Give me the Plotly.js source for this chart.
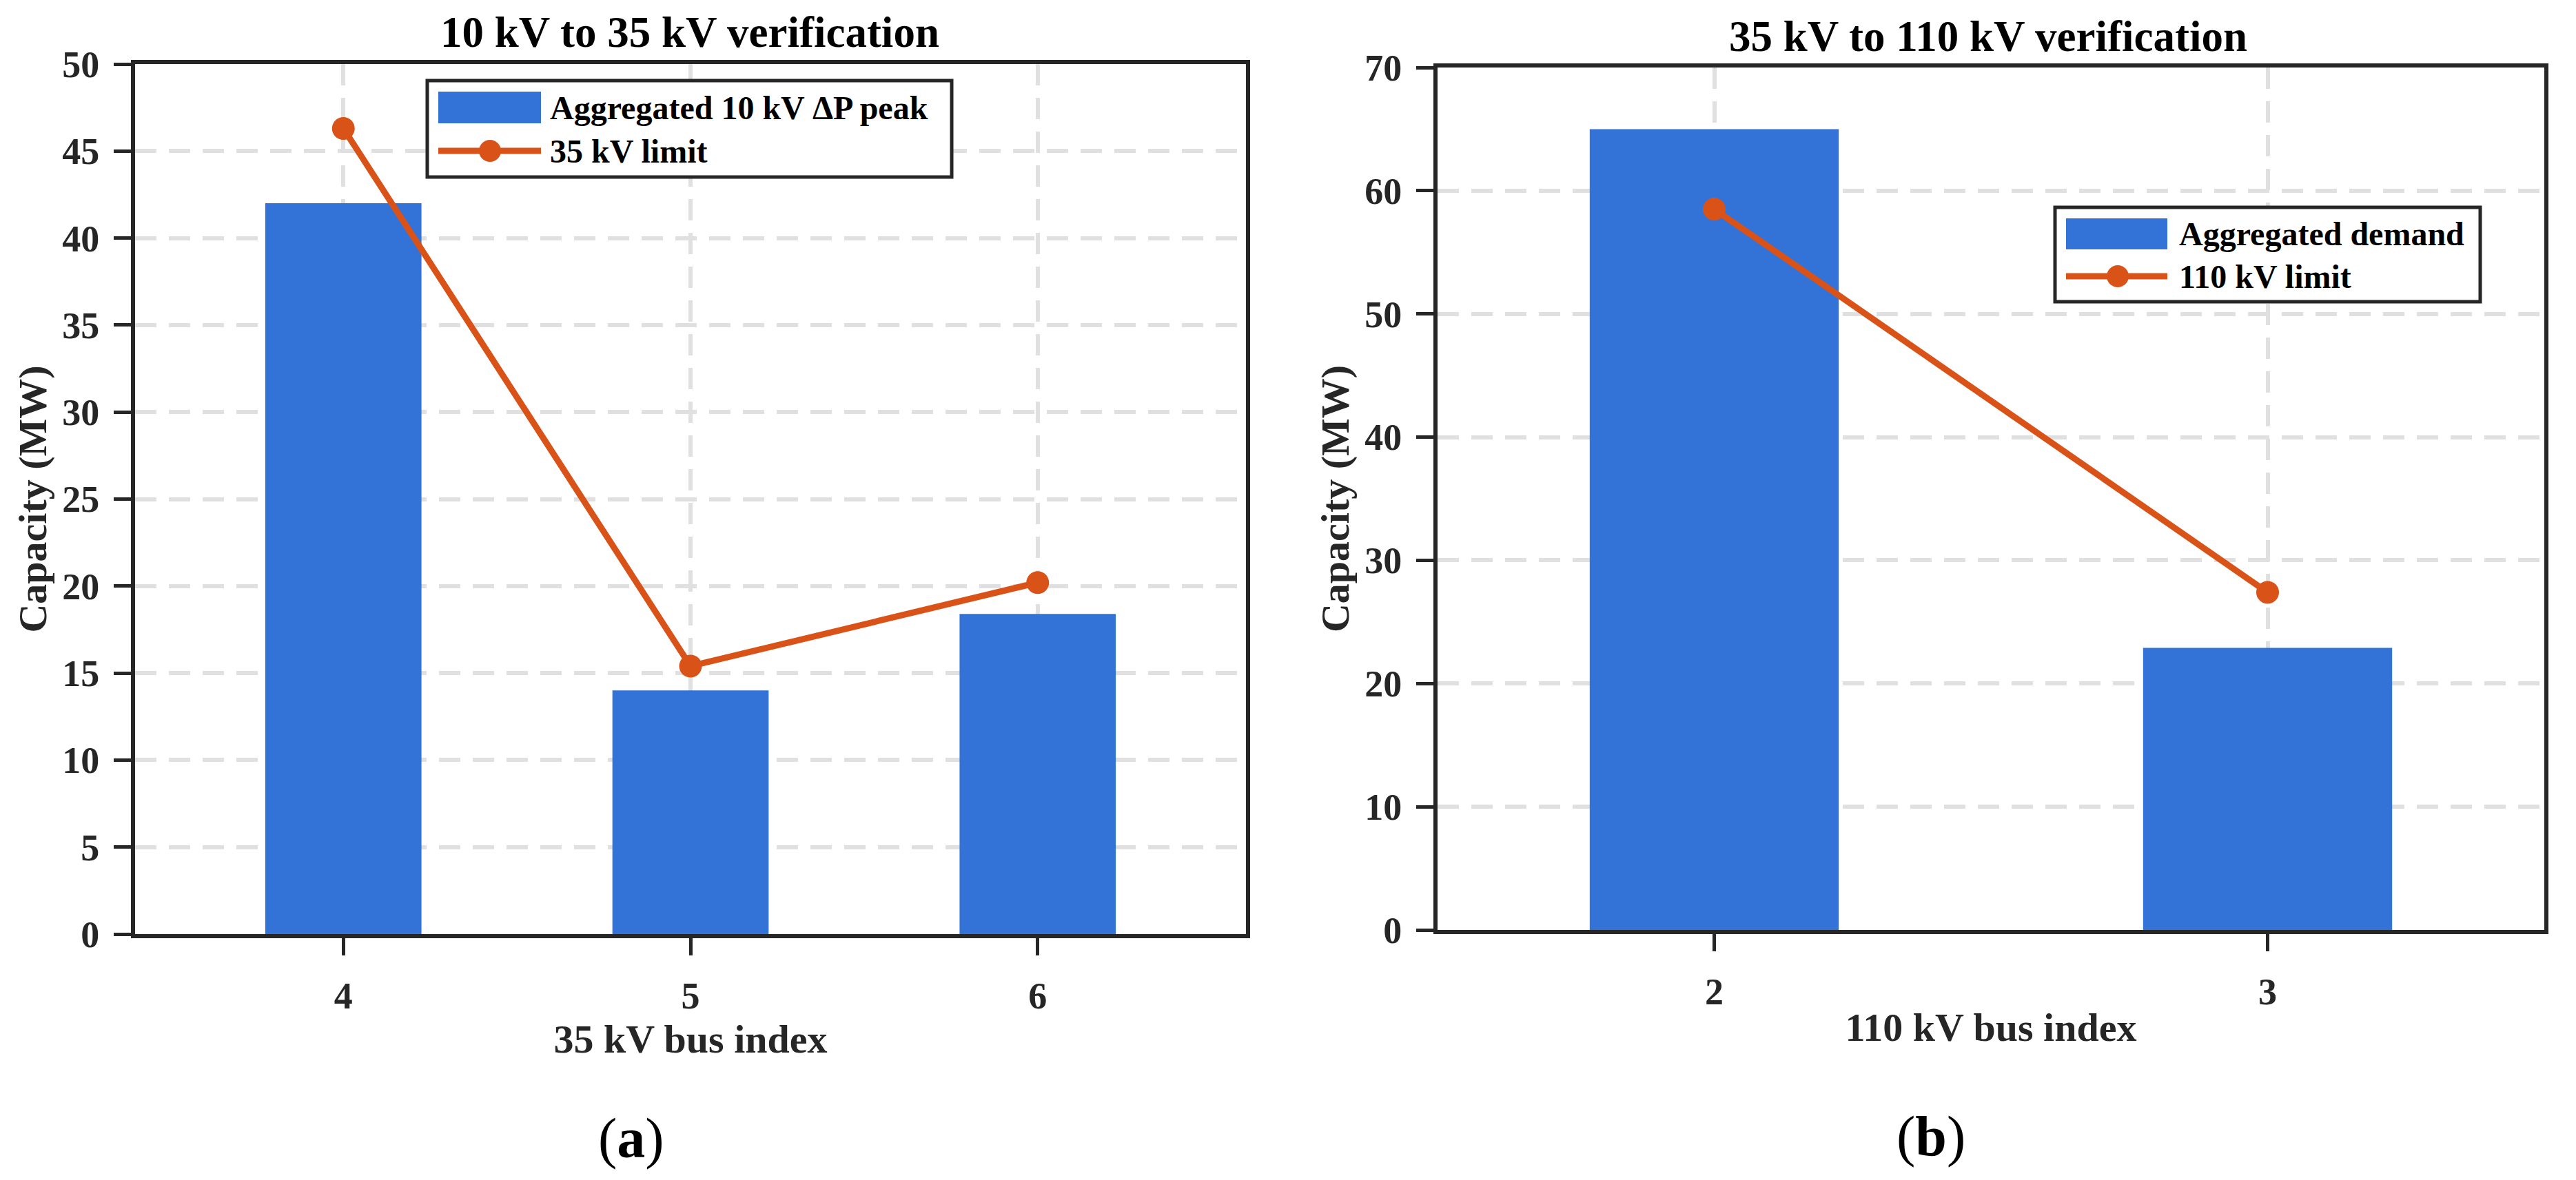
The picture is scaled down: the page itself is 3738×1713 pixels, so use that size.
<!DOCTYPE html>
<html>
<head>
<meta charset="utf-8">
<script src="https://cdn.plot.ly/plotly-3.0.1.min.js"></script>
<style>
  html, body { margin: 0; padding: 0; background: #fff; }
  #plot { width: 3738px; height: 1713px; }
</style>
</head>
<body>
<div id="plot"></div>
<script>
// panel (a): 10 kV -> 35 kV
var bus35 = [4, 5, 6];
var agg10Peak = [42.0, 14.0, 18.4];
var limit35 = [46.3, 15.4, 20.2];

// panel (b): 35 kV -> 110 kV
var bus110 = [2, 3];
var aggDemand = [65.0, 22.9];
var limit110 = [58.5, 27.4];

var nameBarA = 'Aggregated 10 kV \u0394P peak';
var nameLineA = '35 kV limit';
var nameBarB = 'Aggregated demand';
var nameLineB = '110 kV limit';

var W = 3738, H = 1713;
var FONT = '"Liberation Serif", "Times New Roman", serif';
var BLUE = '#3373d7';
var ORANGE = '#d95319';
var INK = '#262626';

function px(x) { return x / W; }
function py(y) { return 1 - y / H; }

var traces = [
  { type: 'bar', x: bus35, y: agg10Peak, name: nameBarA, width: 0.45,
    marker: { color: BLUE, line: { width: 0 } }, xaxis: 'x', yaxis: 'y' },
  { type: 'scatter', mode: 'lines+markers', x: bus35, y: limit35, name: nameLineA,
    line: { color: ORANGE, width: 9 }, marker: { color: ORANGE, size: 33 }, xaxis: 'x', yaxis: 'y' },
  { type: 'bar', x: bus110, y: aggDemand, name: nameBarB, width: 0.45,
    marker: { color: BLUE, line: { width: 0 } }, xaxis: 'x2', yaxis: 'y2' },
  { type: 'scatter', mode: 'lines+markers', x: bus110, y: limit110, name: nameLineB,
    line: { color: ORANGE, width: 9 }, marker: { color: ORANGE, size: 33 }, xaxis: 'x2', yaxis: 'y2' }
];

var tickFont = { family: FONT, size: 54, color: INK, weight: 'bold' };
var titleFont = { family: FONT, size: 58, color: INK, weight: 'bold' };

function xAxis(dom, rng, vals, label) {
  return {
    domain: dom, range: rng, tickvals: vals, ticktext: vals.map(String),
    showline: true, mirror: true, linecolor: INK, linewidth: 6,
    ticks: 'outside', ticklen: 25, tickwidth: 5, tickcolor: INK,
    ticklabelstandoff: 12,
    showgrid: true, gridcolor: '#e0e0e0', gridwidth: 6, griddash: '31px,18px',
    zeroline: false, tickfont: tickFont,
    title: { text: label, font: titleFont, standoff: 4 }
  };
}
function yAxis(dom, rng, dt, label) {
  return {
    domain: dom, range: rng, dtick: dt, tick0: 0,
    showline: true, mirror: true, linecolor: INK, linewidth: 6,
    ticks: 'outside', ticklen: 25, tickwidth: 5, tickcolor: INK,
    ticklabelstandoff: 10,
    showgrid: true, gridcolor: '#e0e0e0', gridwidth: 6, griddash: '31px,18px',
    zeroline: false, tickfont: tickFont,
    title: { text: label, font: titleFont, standoff: 6 }
  };
}

var annotations = [
  { text: '<b>10 kV to 35 kV verification</b>', x: px(1001), y: py(47) },
  { text: '<b>35 kV to 110 kV verification</b>', x: px(2885), y: py(53) }
].map(function (a) {
  return Object.assign({ xref: 'paper', yref: 'paper', xanchor: 'center', yanchor: 'middle',
    showarrow: false, font: { family: FONT, size: 63, color: '#000' } }, a);
});

annotations.push(
  { text: '(<b>a</b>)', x: px(916), y: py(1652), xref: 'paper', yref: 'paper',
    xanchor: 'center', yanchor: 'middle', showarrow: false, font: { family: FONT, size: 82, color: '#000' } },
  { text: '(<b>b</b>)', x: px(2802), y: py(1649), xref: 'paper', yref: 'paper',
    xanchor: 'center', yanchor: 'middle', showarrow: false, font: { family: FONT, size: 82, color: '#000' } }
);

// legend boxes drawn by hand so the swatches can be matplotlib-sized
var shapes = [];
function legendBox(box, sw, rowY, markX, textX, labels) {
  shapes.push({ type: 'rect', xref: 'paper', yref: 'paper',
    x0: px(box[0]), x1: px(box[1]), y0: py(box[2]), y1: py(box[3]),
    fillcolor: '#fff', line: { color: INK, width: 5 } });
  shapes.push({ type: 'rect', xref: 'paper', yref: 'paper',
    x0: px(sw[0]), x1: px(sw[1]), y0: py(sw[2]), y1: py(sw[3]),
    fillcolor: BLUE, line: { width: 0 } });
  shapes.push({ type: 'line', xref: 'paper', yref: 'paper',
    x0: px(sw[0]), x1: px(sw[1]), y0: py(rowY[1]), y1: py(rowY[1]),
    line: { color: ORANGE, width: 9 } });
  shapes.push({ type: 'circle', xref: 'paper', yref: 'paper',
    x0: px(markX - 16), x1: px(markX + 16), y0: py(rowY[1] - 16), y1: py(rowY[1] + 16),
    fillcolor: ORANGE, line: { width: 0 } });
  labels.forEach(function (t, i) {
    annotations.push({ text: '<b>' + t + '</b>', xref: 'paper', yref: 'paper',
      x: px(textX), y: py(rowY[i]), xanchor: 'left', yanchor: 'middle', showarrow: false,
      font: { family: FONT, size: 48, color: '#000' } });
  });
}
legendBox([620, 1381, 117, 257], [636, 785, 133, 179], [156, 219], 711, 796, [nameBarA, nameLineA]);
legendBox([2982, 3599, 301, 438], [2998, 3145, 317, 362], [340, 401], 3073, 3160, [nameBarB, nameLineB]);

var layout = {
  width: W, height: H,
  margin: { l: 0, r: 0, t: 0, b: 0 },
  paper_bgcolor: '#fff', plot_bgcolor: '#fff',
  showlegend: false,
  font: { family: FONT, color: INK },
  xaxis: xAxis([px(196), px(1808)], [3.4, 6.6], bus35, '35 kV bus index'),
  yaxis: yAxis([py(1356), py(93)], [0, 50], 5, 'Capacity (MW)'),
  xaxis2: xAxis([px(2086), px(3692)], [1.5, 3.5], bus110, '110 kV bus index'),
  yaxis2: yAxis([py(1350), py(98)], [0, 70], 10, 'Capacity (MW)'),
  annotations: annotations,
  shapes: shapes
};
layout.xaxis2.anchor = 'y2';
layout.yaxis2.anchor = 'x2';

Plotly.newPlot('plot', traces, layout, { staticPlot: true });
</script>
</body>
</html>
